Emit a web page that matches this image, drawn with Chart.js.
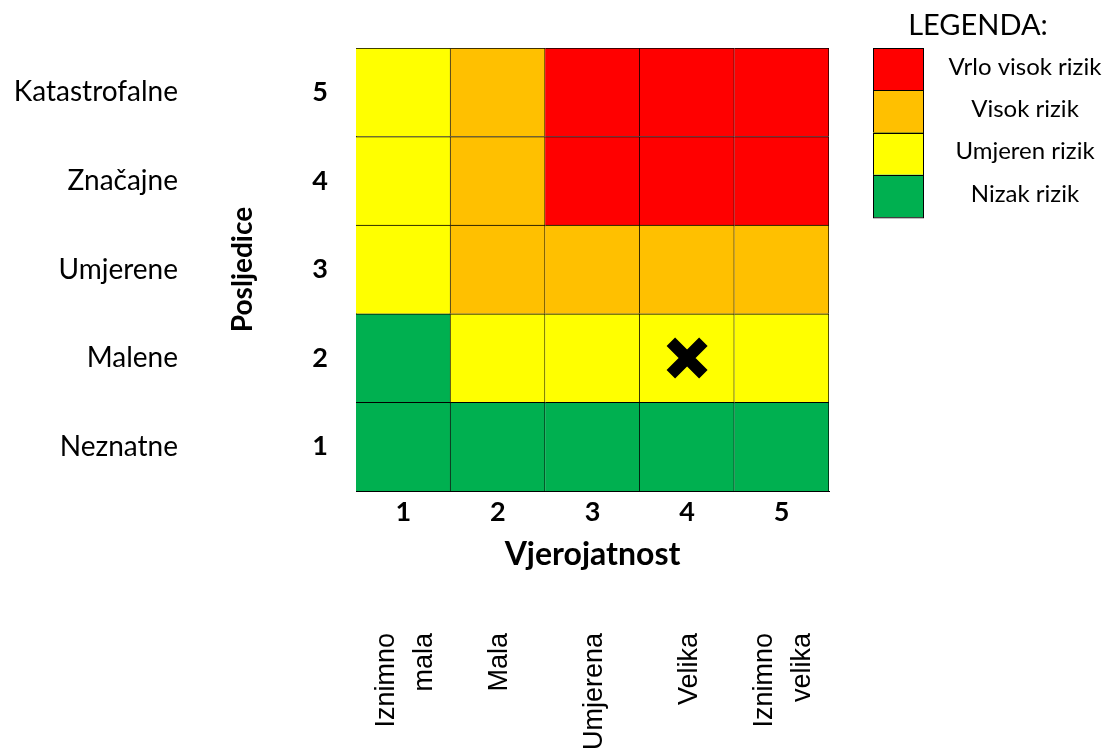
<!DOCTYPE html>
<html lang="hr">
<head>
<meta charset="UTF-8">
<title>Matrica rizika</title>
<script src="https://cdn.jsdelivr.net/npm/chart.js"></script>
<style>
  body { margin: 0; background: #fff; }
  #okvir { width: 1106px; height: 754px; }
</style>
</head>
<body>
<div id="okvir"><canvas id="matrica"></canvas></div>
<script>
  // vjerojatnost (x os) i posljedice (y os)
  const vjerojatnost = ['1', '2', '3', '4', '5'];
  const vjerojatnostOpis = [['Iznimno', 'mala'], 'Mala', 'Umjerena', 'Velika', ['Iznimno', 'velika']];
  const posljedice = ['1', '2', '3', '4', '5'];
  const posljediceOpis = ['Neznatne', 'Malene', 'Umjerene', 'Značajne', 'Katastrofalne'];

  const razine = ['Nizak rizik', 'Umjeren rizik', 'Visok rizik', 'Vrlo visok rizik'];
  const boje = ['#00B050', '#FFFF00', '#FFC000', '#FF0000'];

  // razina rizika: redak = posljedice 1..5, stupac = vjerojatnost 1..5
  const matrica = [
    [0, 0, 0, 0, 0],
    [0, 1, 1, 1, 1],
    [1, 2, 2, 2, 2],
    [1, 2, 3, 3, 3],
    [1, 2, 3, 3, 3]
  ];

  // procijenjeni rizik (oznaka X)
  const procjenaVjerojatnost = ['4'];
  const procjenaPosljedice = [2];

  Chart.defaults.font.family = 'Lato';
  Chart.defaults.color = '#000';

  const redovi = matrica.map((red, i) => ({
    label: posljediceOpis[i],
    data: red.map(() => 1),
    backgroundColor: red.map(r => boje[r]),
    borderColor: '#000',
    borderWidth: { top: 1, right: 1, bottom: 0, left: 0 },
    borderSkipped: false,
    barPercentage: 1,
    categoryPercentage: 1,
    stack: 'matrica'
  }));

  const oznaka = {
    type: 'line',
    label: 'Procjena',
    order: -1, // crta se iznad polja
    data: procjenaVjerojatnost.map((v, i) => ({ x: v, y: procjenaPosljedice[i] - 0.5 })),
    showLine: false,
    pointStyle: 'crossRot',
    pointRadius: 23,
    pointBorderWidth: 12,
    pointBorderColor: '#000',
    pointBackgroundColor: '#000',
    stack: 'oznaka'
  };

  // opisi vjerojatnosti ispod osi, okomito
  const opisVjerojatnosti = {
    id: 'opisVjerojatnosti',
    afterDraw(chart) {
      const ctx = chart.ctx;
      const os = chart.scales.x;
      ctx.save();
      ctx.font = '27px "Liberation Sans"';
      ctx.fillStyle = '#000';
      ctx.textAlign = 'right';
      ctx.textBaseline = 'middle';
      vjerojatnostOpis.forEach((opis, i) => {
        const linije = [].concat(opis);
        linije.forEach((tekst, j) => {
          ctx.save();
          ctx.translate(os.getPixelForTick(i) + 2 + (j - (linije.length - 1) / 2) * 38, 633);
          ctx.rotate(-Math.PI / 2);
          ctx.fillText(tekst, 0, 0);
          ctx.restore();
        });
      });
      ctx.restore();
    }
  };

  // legenda desno
  const legenda = {
    id: 'legenda',
    afterDraw(chart) {
      const ctx = chart.ctx;
      const x0 = 873, y0 = 48, w = 50, h = 42.25;
      ctx.save();
      ctx.fillStyle = '#000';
      ctx.textAlign = 'center';
      ctx.textBaseline = 'middle';
      ctx.font = '29px Lato';
      ctx.fillText('LEGENDA:', 978, 26);
      ctx.font = '24px Lato';
      for (let i = 0; i < razine.length; i++) {
        const k = razine.length - 1 - i;
        const y = y0 + i * h;
        ctx.fillStyle = boje[k];
        ctx.fillRect(x0, y, w, h);
        ctx.strokeStyle = '#000';
        ctx.lineWidth = 1;
        ctx.strokeRect(x0 + 0.5, Math.round(y) + 0.5, w, h);
        ctx.fillStyle = '#000';
        ctx.fillText(razine[k], 1025, y + h / 2 - 2);
      }
      ctx.restore();
    }
  };

  new Chart(document.getElementById('matrica'), {
    type: 'bar',
    data: {
      labels: vjerojatnost,
      datasets: [...redovi, oznaka]
    },
    options: {
      responsive: true,
      maintainAspectRatio: false,
      animation: false,
      layout: { padding: { top: 48, right: 277, bottom: 179, left: 0 } },
      plugins: {
        legend: { display: false },
        tooltip: { enabled: false }
      },
      scales: {
        x: {
          type: 'category',
          stacked: true,
          offset: true,
          z: 1,
          grid: { display: false, drawTicks: false },
          border: { display: true, color: '#000', width: 1 },
          ticks: { font: { size: 27, weight: 'bold' }, padding: 5 },
          title: { display: true, text: 'Vjerojatnost', font: { size: 32, weight: 'bold' }, padding: { top: 0, bottom: 1 } },
          afterFit: s => { s.height = 84; }
        },
        y: {
          type: 'linear',
          min: 0,
          max: 5,
          stacked: true,
          position: 'left',
          weight: 0,
          z: 1,
          afterBuildTicks: s => { s.ticks = posljedice.map((p, i) => ({ value: i + 0.5 })); },
          ticks: { callback: v => posljedice[Math.floor(v)], font: { size: 27, weight: 'bold' }, padding: 28, autoSkip: false },
          grid: { display: false, drawTicks: false },
          border: { display: true, color: '#000', width: 1 },
          title: { display: true, text: 'Posljedice', font: { size: 28, weight: 'bold' }, padding: { top: 26, bottom: 0 } },
          afterFit: s => { s.width = 156; }
        },
        y2: {
          type: 'linear',
          min: 0,
          max: 5,
          position: 'left',
          weight: 1,
          afterBuildTicks: s => { s.ticks = posljediceOpis.map((p, i) => ({ value: i + 0.5 })); },
          ticks: { callback: v => posljediceOpis[Math.floor(v)], font: { size: 28 }, padding: 22, autoSkip: false },
          grid: { display: false, drawTicks: false },
          border: { display: false },
          afterFit: s => { s.width = 200; }
        }
      }
    },
    plugins: [opisVjerojatnosti, legenda]
  });
</script>
</body>
</html>
